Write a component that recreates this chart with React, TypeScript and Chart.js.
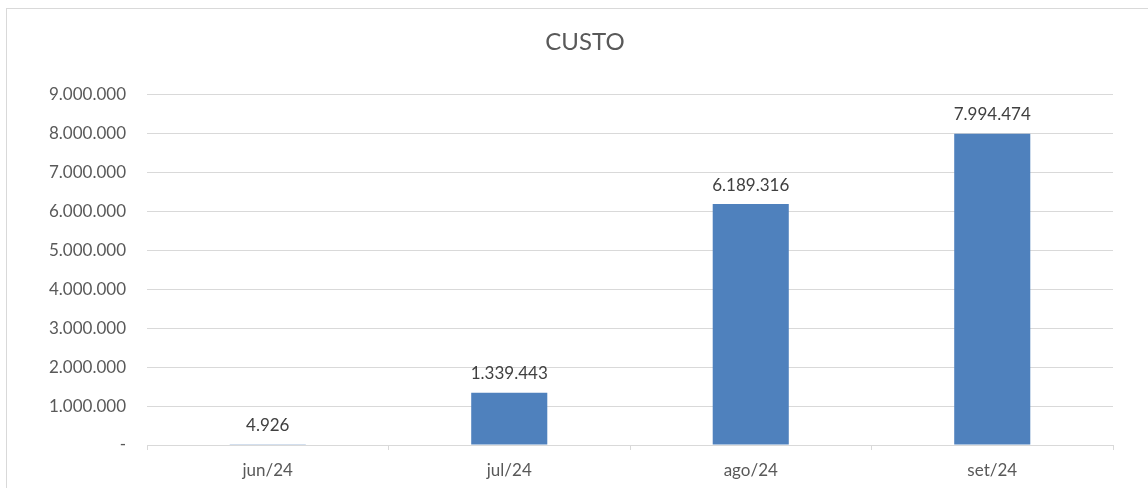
import React, { useEffect, useRef } from "react";
import { Chart, registerables } from "chart.js";

Chart.register(...registerables);

const categories = ["jun/24", "jul/24", "ago/24", "set/24"];
const custo = [4926, 1339443, 6189316, 7994474];
const chartTitle = "CUSTO";
const yMax = 9000000;
const yStep = 1000000;

const fmt = (v: number) => Math.round(v).toString().replace(/\B(?=(\d{3})+(?!\d))/g, ".");

const FONT = "Lato, 'Open Sans', sans-serif";
const LABEL_SIZE = 17;

const dataLabelPlugin = {
  id: "dataLabels",
  afterDatasetsDraw(chart: any) {
    const ctx = chart.ctx;
    const meta = chart.getDatasetMeta(0);
    ctx.save();
    ctx.font = `${LABEL_SIZE}px ${FONT}`;
    ctx.fillStyle = "#404040";
    ctx.textAlign = "center";
    ctx.textBaseline = "middle";
    meta.data.forEach((bar: any, i: number) => {
      ctx.fillText(fmt(custo[i]), bar.x, bar.y - 19);
    });
    ctx.restore();
  },
};

const titlePlugin = {
  id: "customTitle",
  afterDraw(chart: any) {
    const ctx = chart.ctx;
    ctx.save();
    ctx.font = `24px ${FONT}`;
    ctx.fillStyle = "#595959";
    ctx.textAlign = "center";
    ctx.textBaseline = "middle";
    ctx.fillText(chartTitle, 585, 42);
    ctx.restore();
  },
};

export default function App() {
  const ref = useRef<HTMLCanvasElement>(null);
  useEffect(() => {
    document.body.style.margin = "0";
    const chart = new Chart(ref.current!, {
      type: "bar",
      data: {
        labels: categories,
        datasets: [
          {
            label: chartTitle,
            data: custo,
            backgroundColor: "#4F81BD",
            categoryPercentage: 1,
            barPercentage: 0.315,
          },
        ],
      },
      options: {
        animation: false,
        responsive: false,
        maintainAspectRatio: false,
        layout: { padding: { left: 0, right: 35, top: 0, bottom: 0 } },
        plugins: {
          legend: { display: false },
          tooltip: { enabled: false },
          title: {
            display: true,
            text: chartTitle,
            color: "rgba(0,0,0,0)",
            font: { family: FONT, size: 23, weight: "normal" },
            padding: { top: 29, bottom: 38 },
          },
        },
        scales: {
          x: {
            grid: {
              display: true,
              drawOnChartArea: false,
              drawTicks: true,
              tickLength: 5,
              color: "#d9d9d9",
              offset: true,
            },
            border: { display: true, color: "#d9d9d9", width: 1 },
            ticks: {
              color: "#595959",
              font: { family: FONT, size: LABEL_SIZE },
              padding: 10,
            },
            afterFit: (s: any) => {
              s.height = 43;
            },
          },
          y: {
            min: 0,
            max: yMax,
            ticks: {
              stepSize: yStep,
              color: "#595959",
              font: { family: FONT, size: LABEL_SIZE },
              padding: 21,
              callback: (v: any) => (Number(v) === 0 ? "-" : fmt(Number(v))),
            },
            grid: { color: "#d9d9d9", drawTicks: false, lineWidth: 1 },
            border: { display: false },
            afterFit: (s: any) => {
              s.width = 147;
            },
          },
        },
      },
      plugins: [dataLabelPlugin, titlePlugin],
    });
    return () => chart.destroy();
  }, []);

  return (
    <div style={{ position: "fixed", left: 0, top: 0, width: 1148, height: 488, overflow: "hidden", background: "#fff" }}>
      <div
        style={{
          position: "absolute",
          left: 6,
          top: 8,
          width: 1200,
          height: 600,
          border: "1px solid #d9d9d9",
          boxSizing: "border-box",
        }}
      />
      <canvas ref={ref} width={1148} height={488} style={{ position: "absolute", left: 0, top: 0 }} />
    </div>
  );
}
